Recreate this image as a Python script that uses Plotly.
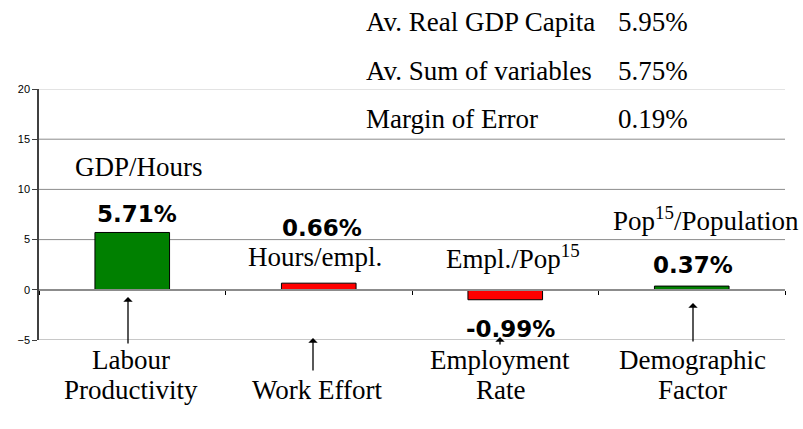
import plotly.graph_objects as go

# ---- data ----
categories = ["Labour Productivity", "Work Effort", "Employment Rate", "Demographic Factor"]
category_lines = [["Labour", "Productivity"], ["Work Effort"], ["Employment", "Rate"], ["Demographic", "Factor"]]
ratio_labels = ["GDP/Hours", "Hours/empl.", "Empl./Pop<sup>15</sup>", "Pop<sup>15</sup>/Population"]
values = [5.71, 0.66, -0.99, 0.37]
summary_names = ["Av. Real GDP Capita", "Av. Sum of variables", "Margin of Error"]
summary_values = [5.95, 5.75, 0.19]
y_ticks = [-5, 0, 5, 10, 15, 20]

# ---- style / layout ----
bar_colors = ["#008000", "#ff0000", "#ff0000", "#008000"]
W, H = 803, 429
L, R, T, B = 39, 18, 89, 89
SERIF = "Liberation Serif, Times New Roman, serif"
SANS = "Liberation Sans, Arial, sans-serif"
BOLD = "DejaVu Sans, Arial, sans-serif"
ymin, ymax = min(y_ticks), max(y_ticks)


def px_x(p):
    return (p - L) / (W - L - R)


def px_y(p):
    return (H - B - p) / (H - T - B)


fig = go.Figure()
fig.add_bar(
    x=categories, y=values, width=0.4,
    marker=dict(color=bar_colors, line=dict(color="#000000", width=1)),
    hoverinfo="skip",
)

# gridlines
shapes = []
for v in y_ticks:
    if v == 0:
        continue
    edge = v in (ymin, ymax)
    shapes.append(dict(
        type="line", xref="paper", yref="y", x0=0, x1=1, y0=v, y1=v,
        line=dict(color="#c8c8c8" if edge else "#8c8c8c", width=2 if v == ymin else 1),
        layer="below",
    ))

annotations = []
# summary block (top right)
summary_y = [22, 71, 119]
for name, val, yp in zip(summary_names, summary_values, summary_y):
    annotations.append(dict(xref="paper", yref="paper", x=px_x(364), y=px_y(yp),
                            xanchor="left", yanchor="middle", text=name, showarrow=False,
                            font=dict(family=SERIF, size=27, color="#000")))
    annotations.append(dict(xref="paper", yref="paper", x=px_x(616), y=px_y(yp),
                            xanchor="left", yanchor="middle", text=f"{val:.2f}%", showarrow=False,
                            font=dict(family=SERIF, size=27, color="#000")))

# ratio labels
ratio_pos = [(139, 167), (315, 257), (513, 257), (706, 219)]
for txt, (xp, yp) in zip(ratio_labels, ratio_pos):
    annotations.append(dict(xref="paper", yref="paper", x=px_x(xp), y=px_y(yp),
                            xanchor="center", yanchor="middle", text=txt, showarrow=False,
                            font=dict(family=SERIF, size=27, color="#000")))

# value labels
value_pos = [(137, 214), (322, 228), (510, 329), (693, 265)]
for v, (xp, yp) in zip(values, value_pos):
    annotations.append(dict(xref="paper", yref="paper", x=px_x(xp), y=px_y(yp),
                            xanchor="center", yanchor="middle", text=f"<b>{v:.2f}%</b>", showarrow=False,
                            font=dict(family=BOLD, size=23, color="#000")))

# bottom category labels
line_x = [131, 317, 500, 692]
for lines, xp in zip(category_lines, line_x):
    ys = [390] if len(lines) == 1 else [360, 390]
    for ln, yp in zip(lines, ys):
        annotations.append(dict(xref="paper", yref="paper", x=px_x(xp), y=px_y(yp),
                                xanchor="center", yanchor="middle", text=ln, showarrow=False,
                                font=dict(family=SERIF, size=27, color="#000")))

# arrows
arrow_pos = [(128, 297, 345), (313, 338, 372), (500, 337, 346), (693, 303, 343)]
for xp, tip, tail in arrow_pos:
    annotations.append(dict(xref="paper", yref="paper", x=px_x(xp), y=px_y(tip),
                            ax=0, ay=tail - tip, text="", showarrow=True,
                            arrowhead=1, arrowsize=1.2, arrowwidth=1.3, arrowcolor="#000"))

fig.update_layout(
    width=W, height=H,
    margin=dict(l=L, r=R, t=T, b=B, pad=0),
    paper_bgcolor="white", plot_bgcolor="white",
    showlegend=False,
    bargap=0.6,
    shapes=shapes,
    annotations=annotations,
    xaxis=dict(
        type="category", range=[-0.5, len(categories) - 0.5],
        anchor="free", position=(0 - ymin) / (ymax - ymin),
        showline=True, linecolor="#8c8c8c", linewidth=1.5,
        ticks="outside", tickson="boundaries", ticklen=4, tickcolor="#000", tickwidth=1,
        showticklabels=False, showgrid=False, zeroline=False, fixedrange=True,
    ),
    yaxis=dict(
        range=[ymin, ymax], tickvals=y_ticks,
        showline=True, linecolor="#404040", linewidth=1.5,
        ticks="outside", ticklen=5, tickcolor="#404040", tickwidth=1,
        tickfont=dict(family=SANS, size=11, color="#000"),
        showgrid=False, zeroline=False, fixedrange=True,
    ),
)

fig.write_html(
    "out.html",
    config={"displayModeBar": False},
    post_script="document.body.style.margin='0';document.body.style.overflow='hidden';",
)
